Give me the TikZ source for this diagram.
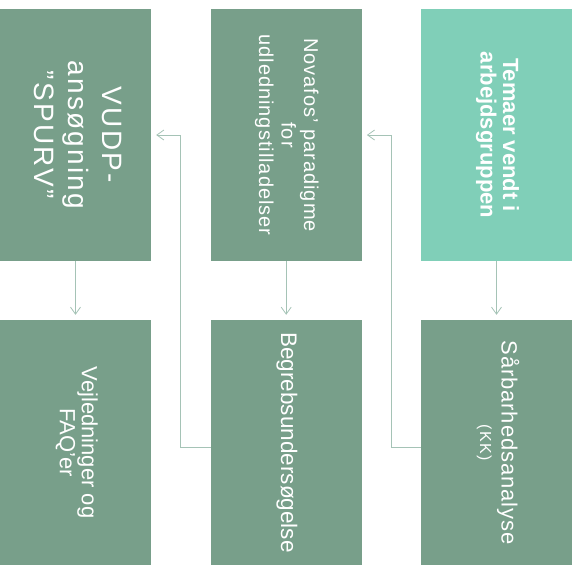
\documentclass[tikz,border=0pt]{standalone}
\usepackage{graphicx}
\usepackage{fontspec}
\setmainfont{Liberation Sans}
\usetikzlibrary{arrows.meta}
\definecolor{boxgreen}{HTML}{789F8A}
\definecolor{boxmint}{HTML}{80CFB8}
\definecolor{linkgrey}{HTML}{A5C3B6}
\newcommand{\sidetext}[2]{\rotatebox{-90}{#1\begin{tabular}{@{}c@{}}#2\end{tabular}}}

\begin{document}
\begin{tikzpicture}[x=1pt,y=-1pt]

\tikzset{box/.style = {rectangle, fill=boxgreen, text=white, inner sep=0pt, minimum width=151pt, minimum height=252pt}}
\tikzset{lowbox/.style = {box, minimum height=245pt}}
\tikzset{link/.style = {draw=linkgrey, line width=0.8pt, -{Straight Barb[length=7pt,width=10pt]}, shorten >=5pt}}
\useasboundingbox (0,0) rectangle (579,565);
%boxes
\node[box] (1) at (75.5,135) {\sidetext{\fontsize{28}{34}\selectfont\addfontfeature{LetterSpace=8}}{VUDP-\\ansøgning\\”SPURV”}};
\node[box] (2) at (286.2,135) {\sidetext{\fontsize{20}{22.5}\selectfont\addfontfeature{LetterSpace=5}}{Novafos’ paradigme\\for\\udledningstilladelser}};
\node[box, fill=boxmint] (3) at (496.5,135) {\sidetext{\fontsize{22}{22}\selectfont\bfseries}{Temaer vendt i\\arbejdsgruppen}};
\node[lowbox] (4) at (75.5,442.5) {\sidetext{\fontsize{22}{22}\selectfont}{Vejledninger og\\FAQ’er}};
\node[lowbox] (5) at (286.2,442.5) {\sidetext{\fontsize{22.5}{26}\selectfont}{Begrebsundersøgelse}};
\node[lowbox] (6) at (496.5,442.5) {\sidetext{\fontsize{22}{21.5}\selectfont\addfontfeature{LetterSpace=4}}{Sårbarhedsanalyse\\{\fontsize{16}{15}\selectfont\addfontfeature{LetterSpace=10}(KK)}}};
%links
\draw [link] (1) -- (4);
\draw [link] (2) -- (5);
\draw [link] (3) -- (6);
\draw [link] ([yshift=-5pt]5.west) -- ++(-30,0) |- (1);
\draw [link] ([yshift=-5pt]6.west) -- ++(-29.3,0) |- (2);

\end{tikzpicture}
\end{document}
